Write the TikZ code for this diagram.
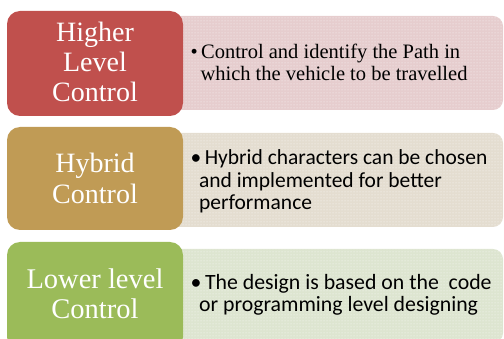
\documentclass[tikz,border=0pt]{standalone}
\usepackage{fontspec}
\setmainfont{Liberation Serif}
\newfontfamily\calib{Carlito}
\usetikzlibrary{patterns}
\definecolor{hiRed}{HTML}{C0504D}
\definecolor{hiPink}{HTML}{E6CDCE}
\definecolor{hyGold}{HTML}{C09B55}
\definecolor{hyBeige}{HTML}{E4DDD0}
\definecolor{loGreen}{HTML}{9BBB59}
\definecolor{loPale}{HTML}{DDE5D0}
\tikzset{
  x=1pt, y=1pt,
  levelbox/.style={rounded corners=13pt},
  textpanel/.style={rounded corners=10pt},
  dotted panel/.style={pattern=dots, pattern color=white, opacity=0.85},
  headtext/.style={text=white, anchor=base, align=center},
  bullettext/.style={anchor=base west, align=left, text=black},
}
\newcommand{\panel}[3]{%
  \fill[textpanel,#3] (170,#1) rectangle (503,#2);
  \fill[textpanel,dotted panel] (170,#1) rectangle (503,#2);
}
\begin{document}
\begin{tikzpicture}
\useasboundingbox (0,0) rectangle (504,-339);
\begin{scope}
\clip (0,0) rectangle (504,-339);
% detail panels (drawn first, partly hidden by the coloured boxes)
\panel{-16}{-110}{hiPink}
\panel{-133}{-227}{hyBeige}
\panel{-249}{-343}{loPale}
% level boxes
\fill[levelbox,hiRed]   (7,-11)  rectangle (183,-116);
\fill[levelbox,hyGold]  (7,-127) rectangle (183,-230);
\fill[levelbox,loGreen] (7,-242) rectangle (183,-350);
\end{scope}
% headings (anchored at the baseline of their last line)
\node[headtext, font=\fontsize{28}{30}\selectfont] (hl) at (95,-102) {Higher\\Level\\Control};
\node[headtext, font=\fontsize{28}{31}\selectfont] (hy) at (95,-204) {Hybrid\\Control};
\node[headtext, font=\fontsize{28.5}{30}\selectfont] (ll) at (95,-319) {Lower level\\Control};
% bullet texts
\node[bullettext, font=\fontsize{20.5}{22}\selectfont] (ht) at (187,-81)
  {\textbullet\,Control and identify the Path in\\\hspace{10pt}which the vehicle to be travelled};
\node[bullettext, font=\calib\fontsize{21.5}{22.5}\selectfont] (yt) at (187,-210)
  {\textbullet\,Hybrid characters can be chosen\\\hspace{8.5pt}and implemented for better\\\hspace{8.5pt}performance};
\node[bullettext, font=\calib\fontsize{21.8}{22}\selectfont] (lt) at (187,-312)
  {\textbullet\,The design is based on the\ \ code\\\hspace{8.5pt}or programming level designing};
\end{tikzpicture}
\end{document}
